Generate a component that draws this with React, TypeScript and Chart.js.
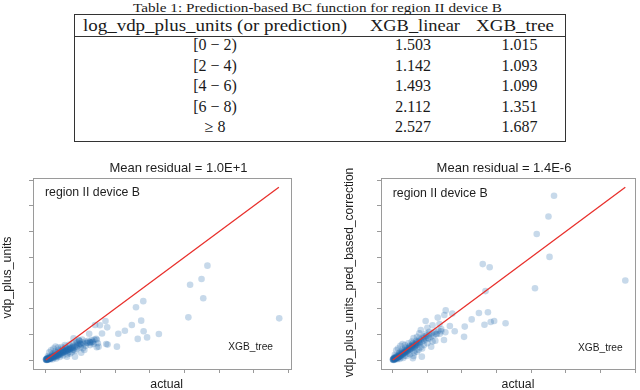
import React, { useEffect, useRef } from "react";
import { Chart, registerables } from "chart.js";

Chart.register(...registerables);

// ---------- table data ----------
const tableCaption = "Table 1: Prediction-based BC function for region II device B";
const tableHeaders = ["log_vdp_plus_units (or prediction)", "XGB_linear", "XGB_tree"];
const binLabels = ["[0 \u2212 2)", "[2 \u2212 4)", "[4 \u2212 6)", "[6 \u2212 8)", "\u2265 8"];
const xgbLinear = ["1.503", "1.142", "1.493", "2.112", "2.527"];
const xgbTree = ["1.015", "1.093", "1.099", "1.351", "1.687"];

// ---------- scatter data (actual, predicted) ----------
const leftTitle = "Mean residual = 1.0E+1";
const rightTitle = "Mean residual = 1.4E-6";
const panelLabel = "region II device B";
const modelLabel = "XGB_tree";
const xAxisLabel = "actual";
const leftYLabel = "vdp_plus_units";
const rightYLabel = "vdp_plus_units_pred_based_correction";
const axisTicks = [0, 1, 2, 3, 4, 5, 6, 7];

const leftOutliers: number[][] = [
  [4.66, 3.67], [4.49, 3.15], [4.16, 2.93], [4.54, 2.4], [4.11, 1.66], [6.73, 1.62],
  [2.81, 2.29], [2.6, 2.05], [2.75, 1.53], [2.48, 1.36], [2.28, 1.14], [2.09, 1.02],
  [2.82, 1.12], [3.26, 1.01], [2.65, 0.82], [2.92, 0.88], [2.05, 0.52],
  [1.72, 1.52], [1.56, 1.35], [1.42, 1.36], [1.77, 1.27], [1.62, 1.03], [1.47, 0.79],
  [1.78, 0.6], [1.52, 0.52], [1.25, 1.02], [1.28, 0.7], [1.11, 0.39], [0.95, 0.78],
  [0.84, 0.13], [0.99, 0.62], [0.78, 0.39], [1.2, 0.67], [1.07, 0.46], [1.02, 0.28],
  [0.91, 0.67], [0.8, 0.84], [0.97, 0.75], [1.45, 0.82], [1.5, 0.65], [1.74, 0.62],
  [1.3, 0.66], [1.34, 0.7], [1.38, 0.62], [1.28, 0.58], [1.47, 0.5], [0.61, 0.13],
];

const leftCluster: number[][] = [
  [0.02, 0.01], [0.04, 0.03], [0.05, 0.02], [0.07, 0.05], [0.08, 0.04], [0.1, 0.06],
  [0.11, 0.08], [0.12, 0.05], [0.14, 0.09], [0.15, 0.12], [0.17, 0.1], [0.18, 0.14],
  [0.2, 0.12], [0.21, 0.16], [0.23, 0.13], [0.25, 0.18], [0.26, 0.15], [0.28, 0.2],
  [0.3, 0.17], [0.31, 0.22], [0.33, 0.19], [0.35, 0.25], [0.36, 0.21], [0.38, 0.27],
  [0.4, 0.24], [0.42, 0.3], [0.44, 0.26], [0.46, 0.32], [0.48, 0.29], [0.5, 0.35],
  [0.52, 0.31], [0.54, 0.38], [0.56, 0.34], [0.58, 0.4], [0.6, 0.36], [0.62, 0.43],
  [0.64, 0.39], [0.66, 0.46], [0.68, 0.42], [0.7, 0.48], [0.72, 0.44], [0.75, 0.51],
  [0.78, 0.47], [0.8, 0.55], [0.83, 0.5], [0.86, 0.58], [0.89, 0.53], [0.92, 0.61],
  [0.95, 0.57], [0.98, 0.64], [1.02, 0.6], [1.06, 0.68], [1.1, 0.63], [1.14, 0.72],
  [1.18, 0.66], [1.22, 0.75], [1.27, 0.69], [1.32, 0.78], [1.36, 0.72], [1.4, 0.8],
  [0.06, 0.15], [0.1, 0.3], [0.15, 0.38], [0.22, 0.45], [0.28, 0.52], [0.35, 0.48],
  [0.45, 0.5], [0.55, 0.58], [0.62, 0.22], [0.7, 0.25], [0.5, 0.18], [0.4, 0.12],
  [0.3, 0.06], [0.2, 0.03], [0.85, 0.35], [0.75, 0.3], [0.9, 0.45], [1.0, 0.5],
  [1.15, 0.55], [0.05, 0.08], [0.09, 0.12], [0.13, 0.02], [0.03, 0.06], [0.16, 0.07],
  [0.24, 0.09], [0.34, 0.14], [0.44, 0.2], [0.65, 0.3], [0.8, 0.4], [0.2, 0.25],
  [0.27, 0.33], [0.37, 0.4], [0.48, 0.45], [0.58, 0.52], [0.68, 0.6], [0.77, 0.65],
  [0.88, 0.7], [0.96, 0.75], [1.05, 0.8], [0.01, 0.0], [0.03, 0.01], [0.06, 0.04],
  [0.09, 0.07], [0.0, 0.02], [0.02, 0.04], [0.04, 0.0], [0.08, 0.09], [0.12, 0.1],
  [0.01, 0.03], [0.03, 0.02], [0.05, 0.05], [0.07, 0.03], [0.09, 0.05], [0.11, 0.04],
  [0.13, 0.07], [0.16, 0.11], [0.19, 0.09], [0.22, 0.14], [0.25, 0.12], [0.29, 0.16],
  [0.32, 0.15], [0.36, 0.19], [0.39, 0.22], [0.43, 0.24], [0.47, 0.27], [0.51, 0.3],
  [0.55, 0.33], [0.59, 0.35], [0.63, 0.38], [0.67, 0.41], [0.71, 0.45], [0.76, 0.48],
  [0.18, 0.2], [0.26, 0.26], [0.34, 0.3], [0.41, 0.35], [0.49, 0.4], [0.57, 0.45],
];

const rightOutliers: number[][] = [
  [4.66, 6.39], [4.5, 5.58], [4.16, 4.9], [4.53, 4.01], [4.11, 2.79], [6.72, 3.09],
  [2.6, 3.73], [2.8, 3.61], [2.68, 2.68], [2.49, 1.83], [2.75, 1.86], [2.28, 1.58],
  [2.08, 1.3], [2.65, 1.37], [2.83, 1.48], [2.93, 1.52], [3.26, 1.43], [2.06, 0.9],
  [1.53, 1.93], [1.72, 1.81], [1.49, 1.75], [1.3, 1.65], [0.95, 1.52], [1.65, 1.32],
  [1.79, 1.12], [1.52, 1.08], [1.48, 0.78], [1.25, 1.02], [1.23, 0.75], [1.11, 0.52],
  [0.84, 0.13], [0.58, 0.07], [0.77, 1.04], [0.91, 0.84], [0.81, 1.17], [1.06, 0.84],
  [1.0, 1.25], [1.15, 1.35], [1.35, 1.4], [1.4, 1.2], [0.7, 0.9], [0.6, 0.85],
];

const rightCluster: number[][] = [
  [0.02, 0.02], [0.04, 0.05], [0.05, 0.03], [0.07, 0.08], [0.08, 0.05], [0.1, 0.1],
  [0.11, 0.07], [0.12, 0.13], [0.14, 0.1], [0.15, 0.16], [0.17, 0.12], [0.18, 0.19],
  [0.2, 0.15], [0.21, 0.22], [0.23, 0.17], [0.25, 0.25], [0.26, 0.2], [0.28, 0.28],
  [0.3, 0.23], [0.31, 0.31], [0.33, 0.26], [0.35, 0.35], [0.36, 0.29], [0.38, 0.38],
  [0.4, 0.32], [0.42, 0.42], [0.44, 0.35], [0.46, 0.45], [0.48, 0.39], [0.5, 0.49],
  [0.52, 0.42], [0.54, 0.53], [0.56, 0.46], [0.58, 0.57], [0.6, 0.49], [0.62, 0.61],
  [0.64, 0.53], [0.66, 0.65], [0.68, 0.57], [0.7, 0.69], [0.72, 0.6], [0.75, 0.74],
  [0.78, 0.65], [0.8, 0.79], [0.83, 0.7], [0.86, 0.84], [0.89, 0.75], [0.92, 0.9],
  [0.95, 0.8], [0.98, 0.95], [1.02, 0.85], [1.06, 1.0], [1.1, 0.9], [1.14, 1.05],
  [1.18, 0.95], [1.22, 1.1], [1.27, 1.0], [1.32, 1.15], [1.36, 1.02], [1.4, 1.12],
  [0.06, 0.2], [0.1, 0.38], [0.15, 0.45], [0.22, 0.55], [0.28, 0.62], [0.35, 0.58],
  [0.45, 0.65], [0.55, 0.72], [0.62, 0.28], [0.7, 0.32], [0.5, 0.22], [0.4, 0.16],
  [0.3, 0.08], [0.2, 0.04], [0.6, 0.16], [0.85, 0.45], [0.75, 0.4], [0.9, 0.58],
  [1.0, 0.65], [1.15, 0.72], [0.05, 0.1], [0.09, 0.15], [0.13, 0.03], [0.03, 0.08],
  [0.16, 0.08], [0.24, 0.11], [0.34, 0.17], [0.44, 0.25], [0.65, 0.38], [0.8, 0.5],
  [0.2, 0.3], [0.27, 0.4], [0.37, 0.48], [0.48, 0.55], [0.58, 0.65], [0.68, 0.75],
  [0.77, 0.82], [0.88, 0.92], [0.96, 1.02], [1.05, 1.1], [0.01, 0.0], [0.03, 0.01],
  [0.06, 0.05], [0.09, 0.08], [0.0, 0.02], [0.02, 0.05], [0.04, 0.0], [0.08, 0.1],
  [0.01, 0.03], [0.03, 0.03], [0.05, 0.06], [0.07, 0.04], [0.09, 0.06], [0.11, 0.1],
  [0.13, 0.09], [0.16, 0.13], [0.19, 0.14], [0.22, 0.18], [0.25, 0.2], [0.29, 0.24],
  [0.32, 0.27], [0.36, 0.31], [0.39, 0.34], [0.43, 0.38], [0.47, 0.41], [0.51, 0.45],
  [0.55, 0.49], [0.59, 0.52], [0.63, 0.56], [0.67, 0.6], [0.71, 0.63], [0.76, 0.68],
  [0.18, 0.26], [0.26, 0.33], [0.34, 0.4], [0.41, 0.46], [0.49, 0.52], [0.57, 0.6],
];

const identityLine = [0, 6.72];

// ---------- styles ----------
const SANS = '"Liberation Sans", Arial, Helvetica, sans-serif';
const SERIF = '"Liberation Serif", "Times New Roman", serif';
const POINT_COLOR = "rgba(31,105,170,0.25)";
const LINE_COLOR = "#e8302c";
const FRAME_COLOR = "#9a9a9a";

type TextSpec = {
  text: string;
  x: number;
  y: number;
  size: number;
  align?: CanvasTextAlign;
  rotate?: boolean;
};

const annotPlugin = {
  id: "annot",
  afterDraw(chart: any, _args: any, opts: any) {
    const ctx = chart.ctx as CanvasRenderingContext2D;
    const a = chart.chartArea;
    ctx.save();
    ctx.strokeStyle = FRAME_COLOR;
    ctx.lineWidth = 1;
    ctx.strokeRect(a.left + 0.5, a.top + 0.5, a.right - a.left, a.bottom - a.top);
    ctx.fillStyle = "#1e1e1e";
    ctx.textBaseline = "middle";
    (opts.texts || []).forEach((t: TextSpec) => {
      ctx.save();
      ctx.font = `${t.size}px ${SANS}`;
      ctx.textAlign = t.align || "center";
      ctx.translate(t.x, t.y);
      if (t.rotate) ctx.rotate(-Math.PI / 2);
      ctx.fillText(t.text, 0, 0);
      ctx.restore();
    });
    ctx.restore();
  },
};

type PanelProps = {
  left: number;
  outliers: number[][];
  cluster: number[][];
  yAxisWidth: number;
  padRight: number;
  xMin: number;
  xMax: number;
  texts: TextSpec[];
};

const CANVAS_W = 320;
const CANVAS_H = 232;
const PAD_TOP = 18;
const X_AXIS_H = 23;

function ScatterPanel(p: PanelProps) {
  const ref = useRef<HTMLCanvasElement | null>(null);
  useEffect(() => {
    if (!ref.current) return;
    const pts = [...p.cluster, ...p.outliers].map(([x, y]) => ({ x, y }));
    const line = identityLine.map((v) => ({ x: v, y: v }));
    const chart = new Chart(ref.current, {
      type: "scatter",
      data: {
        datasets: [
          {
            data: line,
            showLine: true,
            borderColor: LINE_COLOR,
            borderWidth: 1.3,
            pointRadius: 0,
            order: 0,
          } as any,
          {
            data: pts,
            backgroundColor: POINT_COLOR,
            borderWidth: 0,
            pointRadius: 3.3,
            order: 1,
          },
        ],
      },
      options: {
        animation: false,
        responsive: false,
        events: [],
        layout: { padding: { left: 0, right: p.padRight, top: PAD_TOP, bottom: 0 } },
        plugins: {
          legend: { display: false },
          tooltip: { enabled: false },
          title: { display: false },
          annot: { texts: p.texts },
        } as any,
        scales: {
          x: {
            type: "linear",
            min: p.xMin,
            max: p.xMax,
            afterFit: (s: any) => {
              s.height = X_AXIS_H;
            },
            afterBuildTicks: (s: any) => {
              s.ticks = axisTicks.map((v) => ({ value: v }));
            },
            ticks: { display: false },
            border: { display: false },
            grid: {
              drawOnChartArea: false,
              drawTicks: true,
              tickLength: 4,
              color: FRAME_COLOR,
              lineWidth: 1,
            },
          },
          y: {
            type: "linear",
            min: -0.35,
            max: 7.08,
            afterFit: (s: any) => {
              s.width = p.yAxisWidth;
            },
            afterBuildTicks: (s: any) => {
              s.ticks = axisTicks.map((v) => ({ value: v }));
            },
            ticks: { display: false },
            border: { display: false },
            grid: {
              drawOnChartArea: false,
              drawTicks: true,
              tickLength: 4,
              color: FRAME_COLOR,
              lineWidth: 1,
            },
          },
        },
      },
      plugins: [annotPlugin as any],
    });
    return () => chart.destroy();
  }, []);
  return (
    <canvas
      ref={ref}
      width={CANVAS_W}
      height={CANVAS_H}
      style={{ position: "absolute", left: p.left, top: 160, width: CANVAS_W, height: CANVAS_H }}
    />
  );
}

function ResultTable() {
  const rowBase = (i: number) => 50 + 20.6 * i;
  const common = { fontFamily: SERIF, fill: "#1a1a1a" };
  const fit = { lengthAdjust: "spacingAndGlyphs" as const };
  return (
    <svg
      width={640}
      height={150}
      style={{ position: "absolute", left: 0, top: 0 }}
    >
      <text x={317.5} y={11.5} fontSize={13.5} textAnchor="middle" textLength={369} {...fit} {...common}>
        {tableCaption}
      </text>
      <rect x={74.5} y={14.5} width={491} height={127} fill="none" stroke="#333" strokeWidth={1} />
      <line x1={74} x2={566} y1={36.5} y2={36.5} stroke="#333" strokeWidth={1} />
      <text x={83} y={31} fontSize={16} textLength={264} {...fit} {...common}>
        {tableHeaders[0]}
      </text>
      <text x={370} y={31} fontSize={16} textLength={90} {...fit} {...common}>
        {tableHeaders[1]}
      </text>
      <text x={476} y={31} fontSize={16} textLength={78} {...fit} {...common}>
        {tableHeaders[2]}
      </text>
      {binLabels.map((b, i) => (
        <text key={"b" + i} x={215} y={rowBase(i)} fontSize={16} textAnchor="middle" {...common}>
          {b}
        </text>
      ))}
      {xgbLinear.map((v, i) => (
        <text key={"l" + i} x={413} y={rowBase(i)} fontSize={16} textAnchor="middle" {...common}>
          {v}
        </text>
      ))}
      {xgbTree.map((v, i) => (
        <text key={"t" + i} x={519.5} y={rowBase(i)} fontSize={16} textAnchor="middle" {...common}>
          {v}
        </text>
      ))}
    </svg>
  );
}

export default function App() {
  return (
    <div
      style={{
        position: "fixed",
        left: 0,
        top: 0,
        width: 640,
        height: 390,
        background: "#fff",
        overflow: "hidden",
      }}
    >
      <ResultTable />
      <ScatterPanel
        left={0}
        outliers={leftOutliers}
        cluster={leftCluster}
        yAxisWidth={33}
        padRight={29}
        xMin={-0.37}
        xMax={7.07}
        texts={[
          { text: leftTitle, x: 178.5, y: 8.3, size: 13 },
          { text: panelLabel, x: 45, y: 33, size: 12.3, align: "left" },
          { text: modelLabel, x: 273, y: 186.7, size: 10.2, align: "right" },
          { text: leftYLabel, x: 8, y: 117.5, size: 12.3, rotate: true },
          { text: xAxisLabel, x: 166.7, y: 225, size: 12.3 },
        ]}
      />
      <ScatterPanel
        left={320}
        outliers={rightOutliers}
        cluster={rightCluster}
        yAxisWidth={61}
        padRight={5}
        xMin={-0.34}
        xMax={7.0}
        texts={[
          { text: rightTitle, x: 184, y: 8.3, size: 13 },
          { text: panelLabel, x: 72.7, y: 34, size: 12.3, align: "left" },
          { text: modelLabel, x: 302.7, y: 187.7, size: 10.2, align: "right" },
          { text: rightYLabel, x: 30, y: 112.5, size: 12, rotate: true },
          { text: xAxisLabel, x: 198, y: 225, size: 12.3 },
        ]}
      />
    </div>
  );
}
